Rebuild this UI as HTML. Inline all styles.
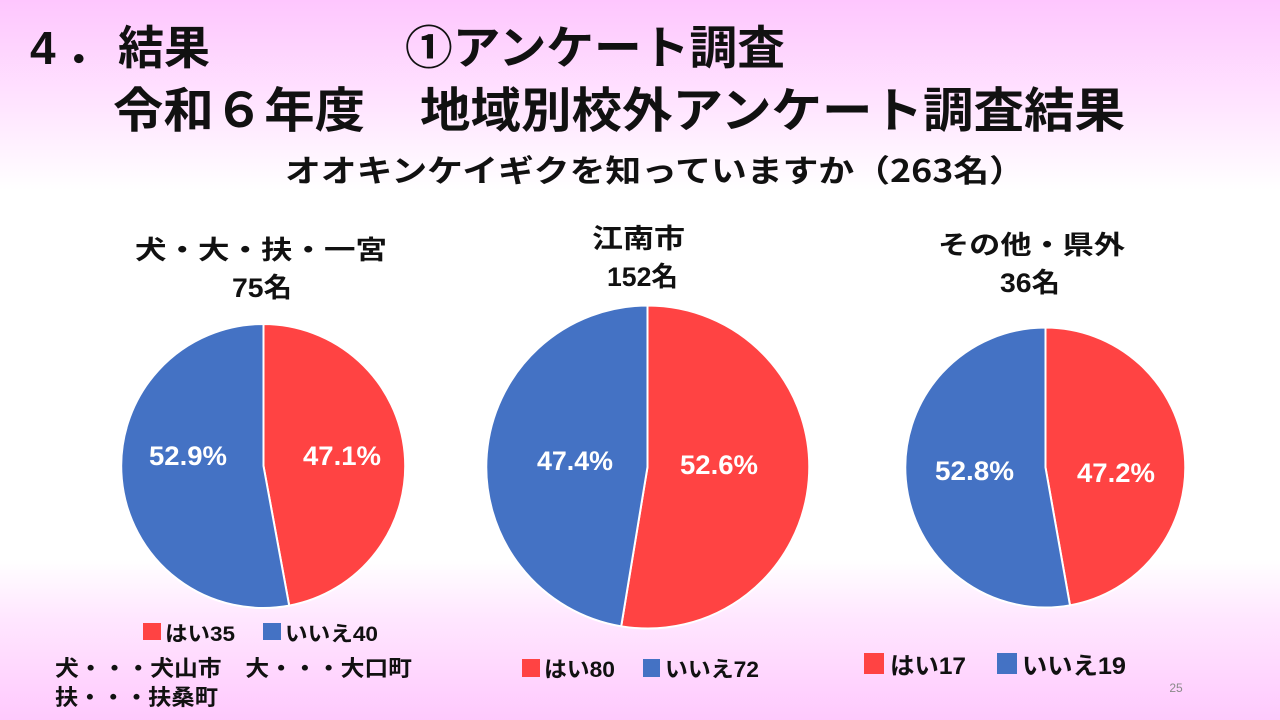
<!DOCTYPE html>
<html>
<head>
<meta charset="utf-8">
<style>
html,body{margin:0;padding:0;}
body{width:1280px;height:720px;overflow:hidden;
background:linear-gradient(to bottom,#fec6fe 0px,#ffe6ff 110px,#ffffff 190px,#ffffff 560px,#ffe6ff 620px,#ffc9fd 720px);}
svg{display:block;}
text{font-family:"Liberation Sans","Noto Sans CJK JP",sans-serif;font-weight:bold;}
.jp{font-family:"Noto Sans CJK JP","Liberation Sans",sans-serif;font-weight:bold;}
</style>
</head>
<body>
<svg width="1280" height="720" viewBox="0 0 1280 720" xmlns="http://www.w3.org/2000/svg">
  <!-- Titles -->
  <text x="30" y="64" font-size="46" fill="#111">4</text>
  <text class="jp" x="66" y="64" font-size="46" fill="#111">．</text>
  <text class="jp" x="118" y="64" font-size="46" fill="#111" textLength="92" lengthAdjust="spacingAndGlyphs">結果</text>
  <text class="jp" x="405" y="64" font-size="46" fill="#111" textLength="380" lengthAdjust="spacingAndGlyphs">①アンケート調査</text>

  <text class="jp" x="113" y="127" font-size="48" fill="#111" textLength="252" lengthAdjust="spacingAndGlyphs">令和６年度</text>
  <text class="jp" x="420" y="127" font-size="48" fill="#111" textLength="705" lengthAdjust="spacingAndGlyphs">地域別校外アンケート調査結果</text>

  <text class="jp" x="285" y="182" font-size="31" fill="#111" textLength="740" lengthAdjust="spacingAndGlyphs">オオキンケイギクを知っていますか（263名）</text>

  <!-- Pie titles -->
  <text class="jp" x="135" y="259" font-size="26" fill="#111" textLength="252" lengthAdjust="spacingAndGlyphs">犬・大・扶・一宮</text>
  <text x="232" y="297" font-size="27" fill="#111" textLength="60" lengthAdjust="spacingAndGlyphs">75名</text>

  <text class="jp" x="592" y="248" font-size="27" fill="#111" textLength="93" lengthAdjust="spacingAndGlyphs">江南市</text>
  <text x="607" y="286" font-size="27" fill="#111" textLength="71" lengthAdjust="spacingAndGlyphs">152名</text>

  <text class="jp" x="938" y="254" font-size="26" fill="#111" textLength="187" lengthAdjust="spacingAndGlyphs">その他・県外</text>
  <text x="1000" y="292" font-size="27" fill="#111" textLength="60" lengthAdjust="spacingAndGlyphs">36名</text>

  <!-- Pie 1 -->
  <path d="M263.5,466 L263.5,324 A142,142 0 0 1 289.2,605.6 Z" fill="#ff4343" stroke="#fff" stroke-width="2" stroke-linejoin="round"/>
  <path d="M263.5,466 L289.2,605.6 A142,142 0 1 1 263.5,324 Z" fill="#4472c4" stroke="#fff" stroke-width="2" stroke-linejoin="round"/>
  <text x="149" y="465" font-size="27" fill="#fff" textLength="78" lengthAdjust="spacingAndGlyphs">52.9%</text>
  <text x="303" y="465" font-size="27" fill="#fff" textLength="78" lengthAdjust="spacingAndGlyphs">47.1%</text>

  <!-- Pie 2 -->
  <path d="M647.5,467 L647.5,305.5 A161.5,161.5 0 1 1 621.2,626.3 Z" fill="#ff4343" stroke="#fff" stroke-width="2" stroke-linejoin="round"/>
  <path d="M647.5,467 L621.2,626.3 A161.5,161.5 0 0 1 647.5,305.5 Z" fill="#4472c4" stroke="#fff" stroke-width="2" stroke-linejoin="round"/>
  <text x="537" y="470" font-size="27" fill="#fff" textLength="76" lengthAdjust="spacingAndGlyphs">47.4%</text>
  <text x="680" y="474" font-size="27" fill="#fff" textLength="78" lengthAdjust="spacingAndGlyphs">52.6%</text>

  <!-- Pie 3 -->
  <path d="M1045.5,467.5 L1045.5,327.5 A140,140 0 0 1 1070,605.3 Z" fill="#ff4343" stroke="#fff" stroke-width="2" stroke-linejoin="round"/>
  <path d="M1045.5,467.5 L1070,605.3 A140,140 0 1 1 1045.5,327.5 Z" fill="#4472c4" stroke="#fff" stroke-width="2" stroke-linejoin="round"/>
  <text x="935" y="480" font-size="27" fill="#fff" textLength="79" lengthAdjust="spacingAndGlyphs">52.8%</text>
  <text x="1077" y="482" font-size="27" fill="#fff" textLength="78" lengthAdjust="spacingAndGlyphs">47.2%</text>

  <!-- Legend 1 -->
  <rect x="143" y="623" width="18" height="17" fill="#ff4343"/>
  <text x="165" y="641" font-size="21" fill="#111" textLength="70" lengthAdjust="spacingAndGlyphs">はい35</text>
  <rect x="263" y="623" width="18" height="17" fill="#4472c4"/>
  <text x="285" y="641" font-size="21" fill="#111" textLength="93" lengthAdjust="spacingAndGlyphs">いいえ40</text>

  <!-- Footnote -->
  <text class="jp" x="55" y="676" font-size="22" fill="#111" textLength="357" lengthAdjust="spacingAndGlyphs">犬・・・犬山市　大・・・大口町</text>
  <text class="jp" x="55" y="705" font-size="22" fill="#111" textLength="163" lengthAdjust="spacingAndGlyphs">扶・・・扶桑町</text>

  <!-- Legend 2 -->
  <rect x="522" y="659" width="18" height="18" fill="#ff4343"/>
  <text x="544" y="677" font-size="22" fill="#111" textLength="71" lengthAdjust="spacingAndGlyphs">はい80</text>
  <rect x="643" y="659" width="17" height="18" fill="#4472c4"/>
  <text x="665" y="677" font-size="22" fill="#111" textLength="94" lengthAdjust="spacingAndGlyphs">いいえ72</text>

  <!-- Legend 3 -->
  <rect x="864" y="653" width="20" height="21" fill="#ff4343"/>
  <text x="890" y="674" font-size="24" fill="#111" textLength="76" lengthAdjust="spacingAndGlyphs">はい17</text>
  <rect x="997" y="653" width="20" height="21" fill="#4472c4"/>
  <text x="1022" y="674" font-size="24" fill="#111" textLength="104" lengthAdjust="spacingAndGlyphs">いいえ19</text>

  <!-- Page number -->
  <text x="1176" y="692" font-size="12" fill="#8a8a8a" text-anchor="middle" style="font-weight:normal">25</text>
</svg>
</body>
</html>
